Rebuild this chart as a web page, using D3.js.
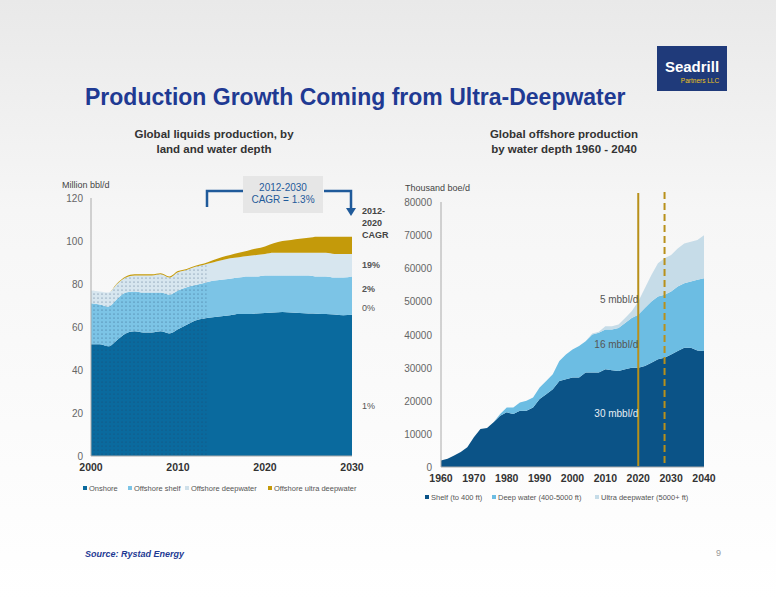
<!DOCTYPE html><html><head><meta charset="utf-8">
<script src="https://cdn.jsdelivr.net/npm/d3@7"></script>
<style>body{margin:0}svg{display:block;font-family:Arial,"Liberation Sans",sans-serif}</style></head><body>
<svg id="c" width="776" height="600"></svg>
<script>
const leftYears = d3.range(2000, 2031);
const onshore = [52,52,51,54,57,58,57.5,57.5,58,57,59,61,63,64,64.5,65,65.5,66,66,66.3,66.5,66.8,67,66.8,66.5,66.3,66.2,66,65.8,65.5,65.7];
const shelf = [19,18.5,18.5,19,19,18.5,18.5,18.5,18,18,18,17.5,16.5,16.5,17,17,17,17,17.5,17.2,17.5,17.2,17,17.2,17.5,17.7,17.3,17.5,17.2,17.5,17.8];
const deepwater = [6,6,6.5,7,7,7.5,8,8,8.5,8,8.5,8,8.5,8.5,8.5,9,9.5,9.5,9.5,10,10,10.5,10.5,10.5,10.5,10.5,11,11,11,11,10.5];
const ultra = [0,0,0,.3,.5,.5,.5,.5,.5,.5,.5,.5,.5,.5,1,1.5,1.5,2,2.5,3,3.5,4.5,5.5,6,6.5,7,7.5,7.5,8,8,8];
const leftTicks = [0,20,40,60,80,100,120];
const leftXTicks = [2000,2010,2020,2030];
const leftNames = ["Onshore","Offshore shelf","Offshore deepwater","Offshore ultra deepwater"];
const cagr = ["1%","0%","2%","19%"];

const rightYears = d3.range(1960, 2041, 2);
const rShelf = [2000,2500,3500,4500,6000,9000,11500,11800,13500,15500,16500,16000,17000,17000,18000,20500,22000,23500,26000,26500,27000,27000,28500,28500,28500,29500,29200,29000,29500,30000,30000,30500,31500,32500,33000,34000,35000,36000,36000,35200,35000];
const rDeep = [0,0,0,0,0,0,0,0,0,500,1500,2000,2500,3000,3000,3500,4000,4500,6000,7500,8500,9500,9500,11500,12000,12000,12300,13000,14000,15000,16000,17500,18500,19000,19000,19000,19500,19500,20000,21300,22000];
const rUltra = [0,0,0,0,0,0,0,0,0,0,0,0,0,0,0,0,0,0,0,0,0,0,0,300,300,1000,1000,1000,1500,2000,4000,6000,8000,10000,11000,11000,11500,12000,12000,12000,13000];
const rightTicks = [0,10000,20000,30000,40000,50000,60000,70000,80000];
const rightXTicks = [1960,1970,1980,1990,2000,2010,2020,2030,2040];
const rightNames = ["Shelf (to 400 ft)","Deep water (400-5000 ft)","Ultra deepwater (5000+ ft)"];
const rightLabels = [["30 mbbl/d",15000,"#e8eef4"],["16 mbbl/d",36000,"#555"],["5 mbbl/d",49500,"#555"]];

const svg = d3.select("#c");
const defs = svg.append("defs");
const g = defs.append("linearGradient").attr("id","bg").attr("x1",0).attr("x2",0).attr("y1",0).attr("y2",1);
g.append("stop").attr("offset","0").attr("stop-color","#e9e9e9");
g.append("stop").attr("offset","0.35").attr("stop-color","#f6f6f6");
g.append("stop").attr("offset","1").attr("stop-color","#ffffff");
svg.append("rect").attr("width",776).attr("height",600).attr("fill","url(#bg)");
const pat = defs.append("pattern").attr("id","dots").attr("width",4).attr("height",4).attr("patternUnits","userSpaceOnUse");
pat.append("circle").attr("cx",2).attr("cy",2).attr("r",0.6).attr("fill","#1d3f66").attr("opacity",0.7);

// logo
svg.append("rect").attr("x",657).attr("y",46).attr("width",70).attr("height",45).attr("fill","#1f3a7a");
svg.append("text").attr("x",692).attr("y",72).attr("text-anchor","middle").attr("fill","#fff").attr("font-weight","bold").attr("font-size",15).text("Seadrill");
svg.append("text").attr("x",700).attr("y",83).attr("text-anchor","middle").attr("fill","#f0c419").attr("font-size",6.5).text("Partners LLC");
svg.append("text").attr("x",85).attr("y",105).attr("fill","#1f3a93").attr("font-weight","bold").attr("font-size",23).text("Production Growth Coming from Ultra-Deepwater");
svg.append("text").attr("x",85).attr("y",557).attr("fill","#1f3a93").attr("font-weight","bold").attr("font-style","italic").attr("font-size",9).text("Source: Rystad Energy");
svg.append("text").attr("x",716).attr("y",556).attr("fill","#999").attr("font-size",9).text("9");

// LEFT chart
const lx = d3.scaleLinear().domain([2000,2030]).range([91,352]);
const ly = d3.scaleLinear().domain([0,120]).range([456,198]);
const lcol = ["#0a6a9e","#7cc4e6","#d7e6ef","#c49a0a"];
const lser = [onshore,shelf,deepwater,ultra];
const ldata = leftYears.map((y,i)=>{const o={year:y};lser.forEach((s,k)=>o[k]=s[i]);return o;});
const lst = d3.stack().keys([0,1,2,3])(ldata);
const larea = d3.area().x(d=>lx(d.data.year)).y0(d=>ly(d[0])).y1(d=>ly(d[1])).curve(d3.curveMonotoneX);
lst.forEach((s,k)=>svg.append("path").attr("d",larea(s)).attr("fill",lcol[k]));
defs.append("clipPath").attr("id","hist").append("rect").attr("x",91).attr("y",190).attr("width",lx(2013.3)-91).attr("height",270);
lst.slice(0,3).forEach(s=>svg.append("path").attr("d",larea(s)).attr("fill","url(#dots)").attr("clip-path","url(#hist)"));
svg.append("line").attr("x1",91).attr("x2",91).attr("y1",198).attr("y2",456).attr("stroke","#aaa");
svg.append("line").attr("x1",91).attr("x2",352).attr("y1",456).attr("y2",456).attr("stroke","#aaa");
svg.selectAll(".lyt").data(leftTicks).join("text").attr("x",83).attr("y",d=>ly(d)+4).attr("text-anchor","end").attr("font-size",10).attr("fill","#666").text(d=>d);
svg.selectAll(".lxt").data(leftXTicks).join("text").attr("x",d=>lx(d)).attr("y",471).attr("text-anchor","middle").attr("font-size",10.5).attr("font-weight","bold").attr("fill","#333").text(d=>d);
svg.append("text").attr("x",62).attr("y",188).attr("font-size",9).attr("fill","#444").text("Million bbl/d");
[["Global liquids production, by",138],["land and water depth",153]].forEach(t=>svg.append("text").attr("x",214).attr("y",t[1]).attr("text-anchor","middle").attr("font-size",11.5).attr("font-weight","bold").attr("fill","#333").text(t[0]));
// CAGR labels (1%, 0%, 2%, 19%)
[[409,false],[311,false],[292,true],[268,true]].forEach((p,i)=>svg.append("text").attr("x",362).attr("y",p[0]).attr("font-size",9).attr("font-weight",p[1]?"bold":"normal").attr("fill","#555").text(cagr[i]));
["2012-","2020","CAGR"].forEach((t,i)=>svg.append("text").attr("x",362).attr("y",214+i*12).attr("font-size",9).attr("font-weight","bold").attr("fill","#444").text(t));
svg.append("rect").attr("x",243).attr("y",176).attr("width",80).attr("height",37).attr("fill","#e6e6e6");
svg.append("text").attr("x",283).attr("y",191).attr("text-anchor","middle").attr("font-size",10).attr("fill","#1f5a9a").text("2012-2030");
svg.append("text").attr("x",283).attr("y",203).attr("text-anchor","middle").attr("font-size",10).attr("fill","#1f5a9a").text("CAGR = 1.3%");
svg.append("path").attr("d","M207,207V191H243").attr("fill","none").attr("stroke","#1f5a9a").attr("stroke-width",2.5);
svg.append("path").attr("d","M324,191H351V210").attr("fill","none").attr("stroke","#1f5a9a").attr("stroke-width",2.5);
svg.append("path").attr("d","M346,208L356,208L351,216Z").attr("fill","#1f5a9a");
// legend left
leftNames.forEach((n,i)=>{const xs=[83,128,185,268][i];
 svg.append("rect").attr("x",xs).attr("y",486).attr("width",4).attr("height",4).attr("fill",lcol[i]===lcol[2]?"#cfe0ea":lcol[i]);
 svg.append("text").attr("x",xs+6).attr("y",491).attr("font-size",7.5).attr("fill","#555").text(n);});

// RIGHT chart
const rx = d3.scaleLinear().domain([1960,2040]).range([441,704]);
const ry = d3.scaleLinear().domain([0,80000]).range([467,202]);
const rcol = ["#0b5387","#6cbde3","#c6dce8"];
const rdata = rightYears.map((y,i)=>({year:y,0:rShelf[i],1:rDeep[i],2:rUltra[i]}));
const rst = d3.stack().keys([0,1,2])(rdata);
const rarea = d3.area().x(d=>rx(d.data.year)).y0(d=>ry(d[0])).y1(d=>ry(d[1]));
rst.forEach((s,k)=>svg.append("path").attr("d",rarea(s)).attr("fill",rcol[k]));
svg.append("line").attr("x1",441).attr("x2",441).attr("y1",202).attr("y2",467).attr("stroke","#aaa");
svg.append("line").attr("x1",441).attr("x2",704).attr("y1",467).attr("y2",467).attr("stroke","#aaa");
svg.selectAll(".ryt").data(rightTicks).join("text").attr("x",432).attr("y",d=>ry(d)+4).attr("text-anchor","end").attr("font-size",10).attr("fill","#666").text(d=>d);
svg.selectAll(".rxt").data(rightXTicks).join("text").attr("x",d=>rx(d)).attr("y",482).attr("text-anchor","middle").attr("font-size",10.5).attr("font-weight","bold").attr("fill","#333").text(d=>d);
svg.append("text").attr("x",405).attr("y",191).attr("font-size",9).attr("fill","#444").text("Thousand boe/d");
[["Global offshore production",138],["by water depth 1960 - 2040",153]].forEach(t=>svg.append("text").attr("x",564).attr("y",t[1]).attr("text-anchor","middle").attr("font-size",11.5).attr("font-weight","bold").attr("fill","#333").text(t[0]));
svg.append("line").attr("x1",rx(2020)).attr("x2",rx(2020)).attr("y1",193).attr("y2",466).attr("stroke","#b8901a").attr("stroke-width",2);
svg.append("line").attr("x1",rx(2028)).attr("x2",rx(2028)).attr("y1",192).attr("y2",466).attr("stroke","#b8901a").attr("stroke-width",2).attr("stroke-dasharray","7,4");
rightLabels.forEach(l=>svg.append("text").attr("x",rx(2020)).attr("y",ry(l[1])).attr("text-anchor","end").attr("font-size",10).attr("fill",l[2]).text(l[0]));
rightNames.forEach((n,i)=>{const xs=[425,492,595][i];
 svg.append("rect").attr("x",xs).attr("y",495).attr("width",4).attr("height",4).attr("fill",rcol[i]);
 svg.append("text").attr("x",xs+6).attr("y",500).attr("font-size",7.5).attr("fill","#555").text(n);});
</script></body></html>
